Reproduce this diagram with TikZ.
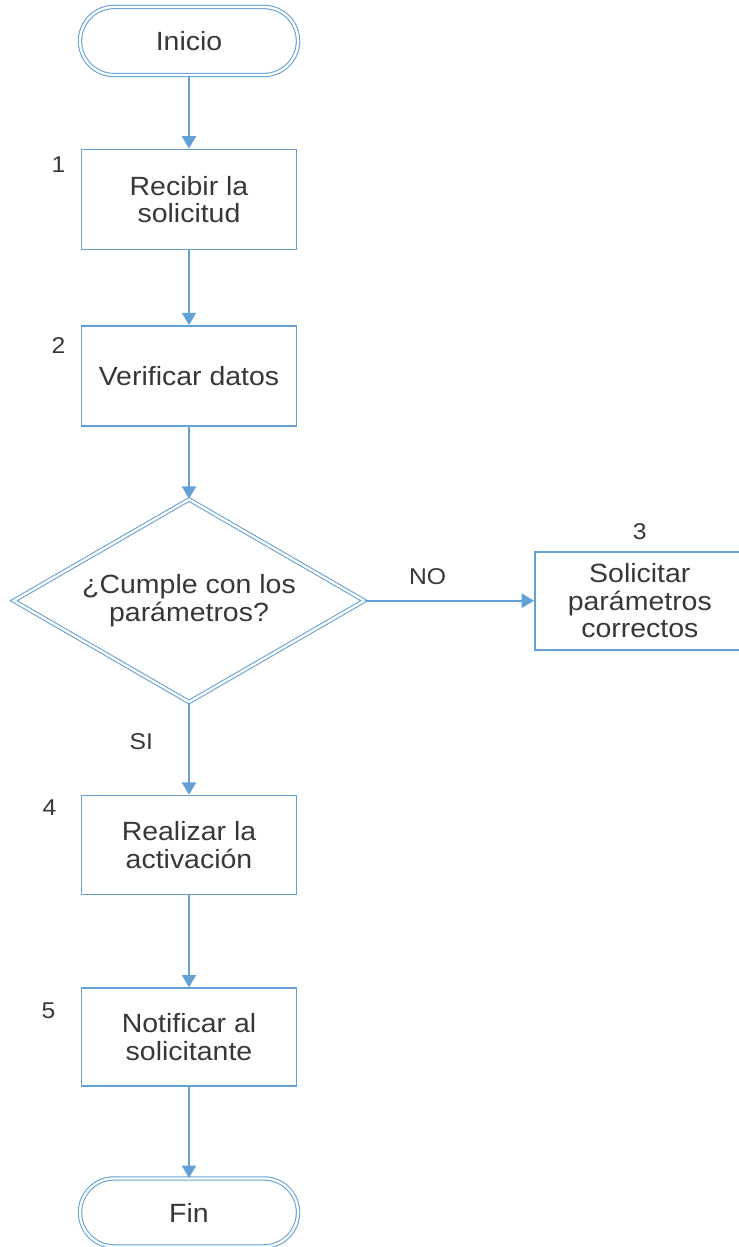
\documentclass[tikz,border=0pt]{standalone}
\usepackage{fontspec}
\setmainfont{Liberation Sans}[FakeStretch=1.08]
\usetikzlibrary{shapes.geometric,positioning,arrows.meta}
\definecolor{azul}{RGB}{98,160,214}
\definecolor{texto}{RGB}{55,55,55}
\tikzset{
  terminal/.style={rectangle,rounded corners=0.68cm,draw=azul,double=white,double distance=1.3pt,
    line width=0.6pt,minimum width=4.36cm,minimum height=1.36cm,font=\fontsize{15}{15.5}\selectfont},
  proceso/.style={rectangle,draw=azul,line width=0.9pt,minimum width=4.3cm,minimum height=2cm,
    align=center,font=\fontsize{15}{15.5}\selectfont},
  decision/.style={diamond,shape aspect=1.73,draw=azul,double=white,double distance=1.3pt,line width=0.6pt,
    minimum width=7.02cm,minimum height=4.06cm,inner sep=0pt,align=center,font=\fontsize{15}{15.5}\selectfont},
  num/.style={inner sep=0pt,font=\fontsize{13}{13}\selectfont},
  etiqueta/.style={inner sep=0pt,font=\fontsize{13}{13}\selectfont}
}
\begin{document}
\begin{tikzpicture}[->,>={Triangle[width=8pt,length=7pt]},color=texto,node distance=1.5cm,
  every edge/.style={draw=azul,line width=1.1pt}]
  \useasboundingbox (0,0) rectangle (14.78,-24.94);
  \node[terminal] (inicio) at (3.78,-0.82) {Inicio};
  \node[proceso]  (s1) [below=1.46cm of inicio] {Recibir la\\solicitud};
  \node[proceso]  (s2) [below=of s1] {Verificar datos};
  \node[decision] (dec) [below=1.44cm of s2] {¿Cumple con los\\parámetros?};
  \node[proceso,minimum width=4.2cm,minimum height=1.96cm] (s3) [right=3.38cm of dec] {Solicitar\\parámetros\\correctos};
  \node[proceso,minimum height=1.98cm] (s4) [below=1.84cm of dec] {Realizar la\\activación};
  \node[proceso,minimum height=1.96cm] (s5) [below=1.84cm of s4] {Notificar al\\solicitante};
  \node[terminal] (fin) [below=1.82cm of s5] {Fin};

  \node[num] (n1) [below left=0.16cm and 0.3cm of s1.north west] {1};
  \node[num] (n2) [below left=0.24cm and 0.3cm of s2.north west] {2};
  \node[num] (n3) [above=0.22cm of s3.north] {3};
  \node[num] (n4) [below left=0.1cm and 0.48cm of s4.north west] {4};
  \node[num] (n5) [below left=0.3cm and 0.5cm of s5.north west] {5};

  \path (inicio) edge (s1)
        (s1) edge (s2)
        (s2) edge (dec)
        (dec) edge node[etiqueta,above=0.3cm,pos=0.37] {NO} (s3)
              edge node[etiqueta,left=0.7cm,pos=0.42] {SI} (s4)
        (s4) edge (s5)
        (s5) edge (fin);
\end{tikzpicture}
\end{document}
